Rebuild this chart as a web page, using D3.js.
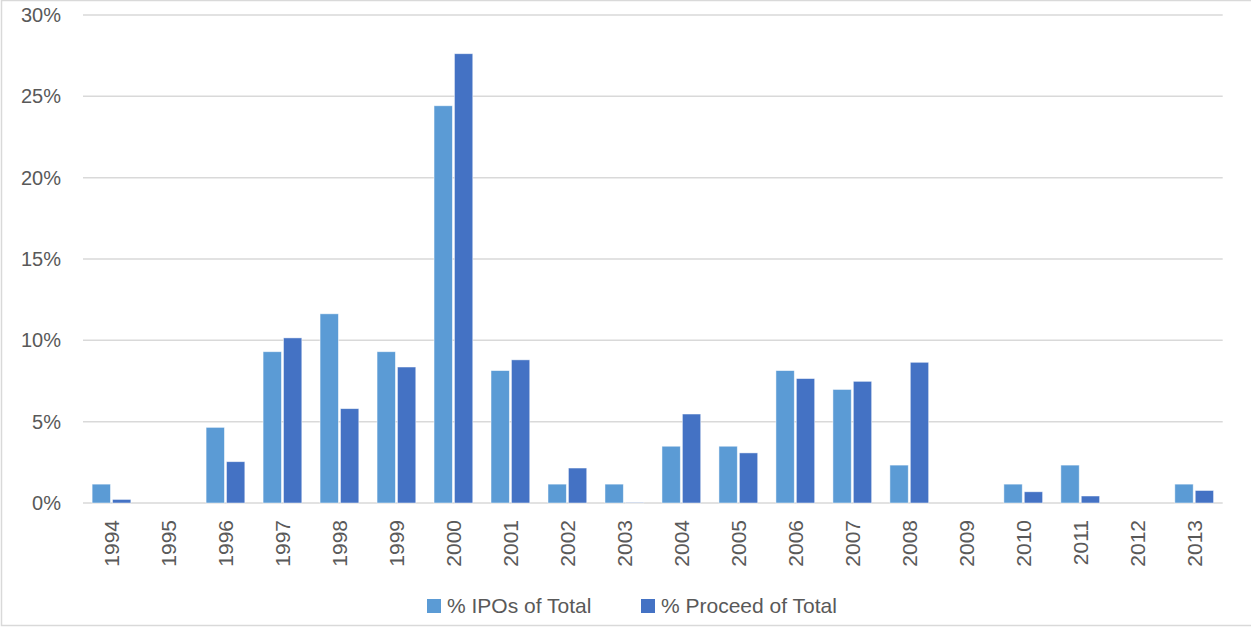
<!DOCTYPE html>
<html>
<head>
<meta charset="utf-8">
<script src="https://cdn.jsdelivr.net/npm/d3@7/dist/d3.min.js"></script>
<style>
  html, body { margin: 0; padding: 0; background: #fff; }
  svg { display: block; }
  text { font-family: "Liberation Sans", Arial, sans-serif; fill: #595959; }
</style>
</head>
<body>
<svg id="chart" width="1251" height="627"></svg>
<script>
const years = ["1994","1995","1996","1997","1998","1999","2000","2001","2002","2003","2004","2005","2006","2007","2008","2009","2010","2011","2012","2013"];
const seriesNames = ["% IPOs of Total", "% Proceed of Total"];
const ipoPct = [1.16, 0, 4.65, 9.30, 11.63, 9.30, 24.42, 8.14, 1.16, 1.16, 3.49, 3.49, 8.14, 6.98, 2.33, 0, 1.16, 2.33, 0, 1.16];
const proceedPct = [0.22, 0, 2.54, 10.15, 5.80, 8.36, 27.62, 8.80, 2.15, 0.03, 5.47, 3.08, 7.65, 7.48, 8.65, 0, 0.69, 0.43, 0, 0.77];
const yTicks = [0, 5, 10, 15, 20, 25, 30];
const colors = ["#5B9BD5", "#4472C4"];

const svg = d3.select("#chart");
const plotLeft = 83, plotRight = 1222.7, plotTop = 15, plotBottom = 503;

// outer border
svg.append("rect").attr("x", 1.5).attr("y", 0.5).attr("width", 1252).attr("height", 625)
  .attr("fill", "#fff").attr("stroke", "#d9d9d9").attr("stroke-width", 1.5);

const x0 = d3.scaleBand().domain(years).range([plotLeft, plotRight]).paddingInner(0.32).paddingOuter(0.16);
const x1 = d3.scaleBand().domain(seriesNames).range([0, x0.bandwidth()]).paddingInner(0.1);
const y = d3.scaleLinear().domain([0, 30]).range([plotBottom, plotTop]);

// gridlines
const grid = svg.append("g");
grid.selectAll("line").data(yTicks).join("line")
  .attr("x1", plotLeft).attr("x2", plotRight)
  .attr("y1", d => y(d)).attr("y2", d => y(d))
  .attr("stroke", "#d9d9d9").attr("stroke-width", 1.5);

// y labels
const yAxis = d3.axisLeft(y).tickValues(yTicks).tickFormat(d => d + "%").tickSize(0).tickPadding(0);
const yg = svg.append("g").attr("transform", `translate(61,0)`).call(yAxis);
yg.select(".domain").remove();
yg.selectAll("text").style("font-size", "20px").attr("fill", "#595959")
  .style("font-family", "'Liberation Sans', Arial, sans-serif");

// bars
const data = years.map((yr, i) => ({ year: yr, vals: [ipoPct[i], proceedPct[i]] }));
const groups = svg.append("g").selectAll("g").data(data).join("g")
  .attr("transform", d => `translate(${x0(d.year)},0)`);
groups.selectAll("rect").data(d => d.vals.map((v, j) => ({ v, s: seriesNames[j], j })))
  .join("rect")
  .attr("x", d => x1(d.s))
  .attr("width", x1.bandwidth())
  .attr("y", d => y(d.v))
  .attr("height", d => y(0) - y(d.v))
  .attr("fill", d => colors[d.j])
  .attr("stroke", "#ffffff").attr("stroke-width", 0.8).attr("stroke-opacity", 0.6);

// x labels
const xAxis = d3.axisBottom(x0).tickSize(0).tickPadding(0);
const xg = svg.append("g").attr("transform", `translate(0,${plotBottom})`).call(xAxis);
xg.select(".domain").remove();
xg.selectAll("text")
  .attr("transform", "rotate(-90)")
  .attr("x", -17).attr("y", 0).attr("dy", "0.35em")
  .style("text-anchor", "end")
  .style("font-size", "21px").attr("fill", "#595959")
  .style("font-family", "'Liberation Sans', Arial, sans-serif");

// legend
const legendX = [427, 641];
const legend = svg.append("g");
seriesNames.forEach((name, i) => {
  legend.append("rect").attr("x", legendX[i]).attr("y", 599).attr("width", 14).attr("height", 14).attr("fill", colors[i]);
  legend.append("text").attr("x", legendX[i] + 20).attr("y", 613).text(name).style("font-size", "21px");
});
</script>
</body>
</html>
